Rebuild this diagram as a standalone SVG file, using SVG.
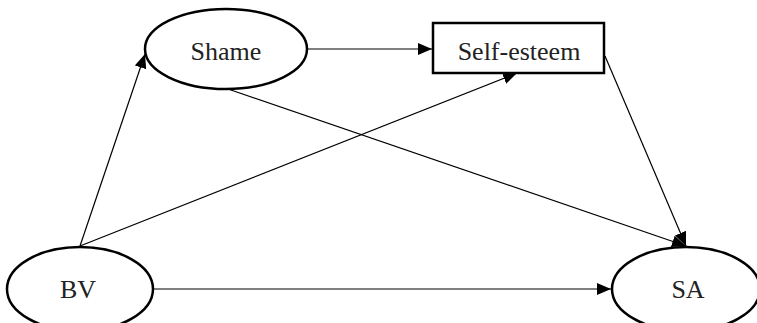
<svg xmlns="http://www.w3.org/2000/svg" width="757" height="323" viewBox="0 0 757 323">
  <style>
    .node { fill: #fff; stroke: #000; stroke-width: 2.5; }
    .label { font-family: "Liberation Serif", "Times New Roman", serif; font-size: 26px; fill: #222; text-anchor: middle; dominant-baseline: central; }
    .edge { stroke: #000; stroke-width: 1.2; fill: none; marker-end: url(#arrow); }
  </style>
  <defs>
    <marker id="arrow" viewBox="0 0 14 12" refX="14" refY="6" markerWidth="14" markerHeight="12" markerUnits="userSpaceOnUse" orient="auto">
      <path d="M0,0 L14,6 L0,12 Z" fill="#000"/>
    </marker>
  </defs>
  <g id="connectors">
    <line class="edge" x1="307" y1="49" x2="432" y2="49"/>
    <line class="edge" x1="80" y1="246" x2="145" y2="54"/>
    <line class="edge" x1="80" y1="246" x2="517" y2="73"/>
    <line class="edge" x1="228" y1="89" x2="686" y2="246"/>
    <line class="edge" x1="605" y1="56" x2="686" y2="246"/>
    <line class="edge" x1="153" y1="289" x2="611" y2="289"/>
  </g>
  <g id="shame">
    <ellipse class="node" cx="226" cy="49" rx="81" ry="40"/>
    <text class="label" x="226" y="51">Shame</text>
  </g>
  <g id="self-esteem">
    <rect class="node" x="433" y="23" width="171" height="50"/>
    <text class="label" x="519" y="51">Self-esteem</text>
  </g>
  <g id="bv">
    <ellipse class="node" cx="80" cy="289" rx="73" ry="42"/>
    <text class="label" x="78" y="289">BV</text>
  </g>
  <g id="sa">
    <ellipse class="node" cx="686" cy="289" rx="74" ry="42"/>
    <text class="label" x="688" y="289">SA</text>
  </g>
</svg>
